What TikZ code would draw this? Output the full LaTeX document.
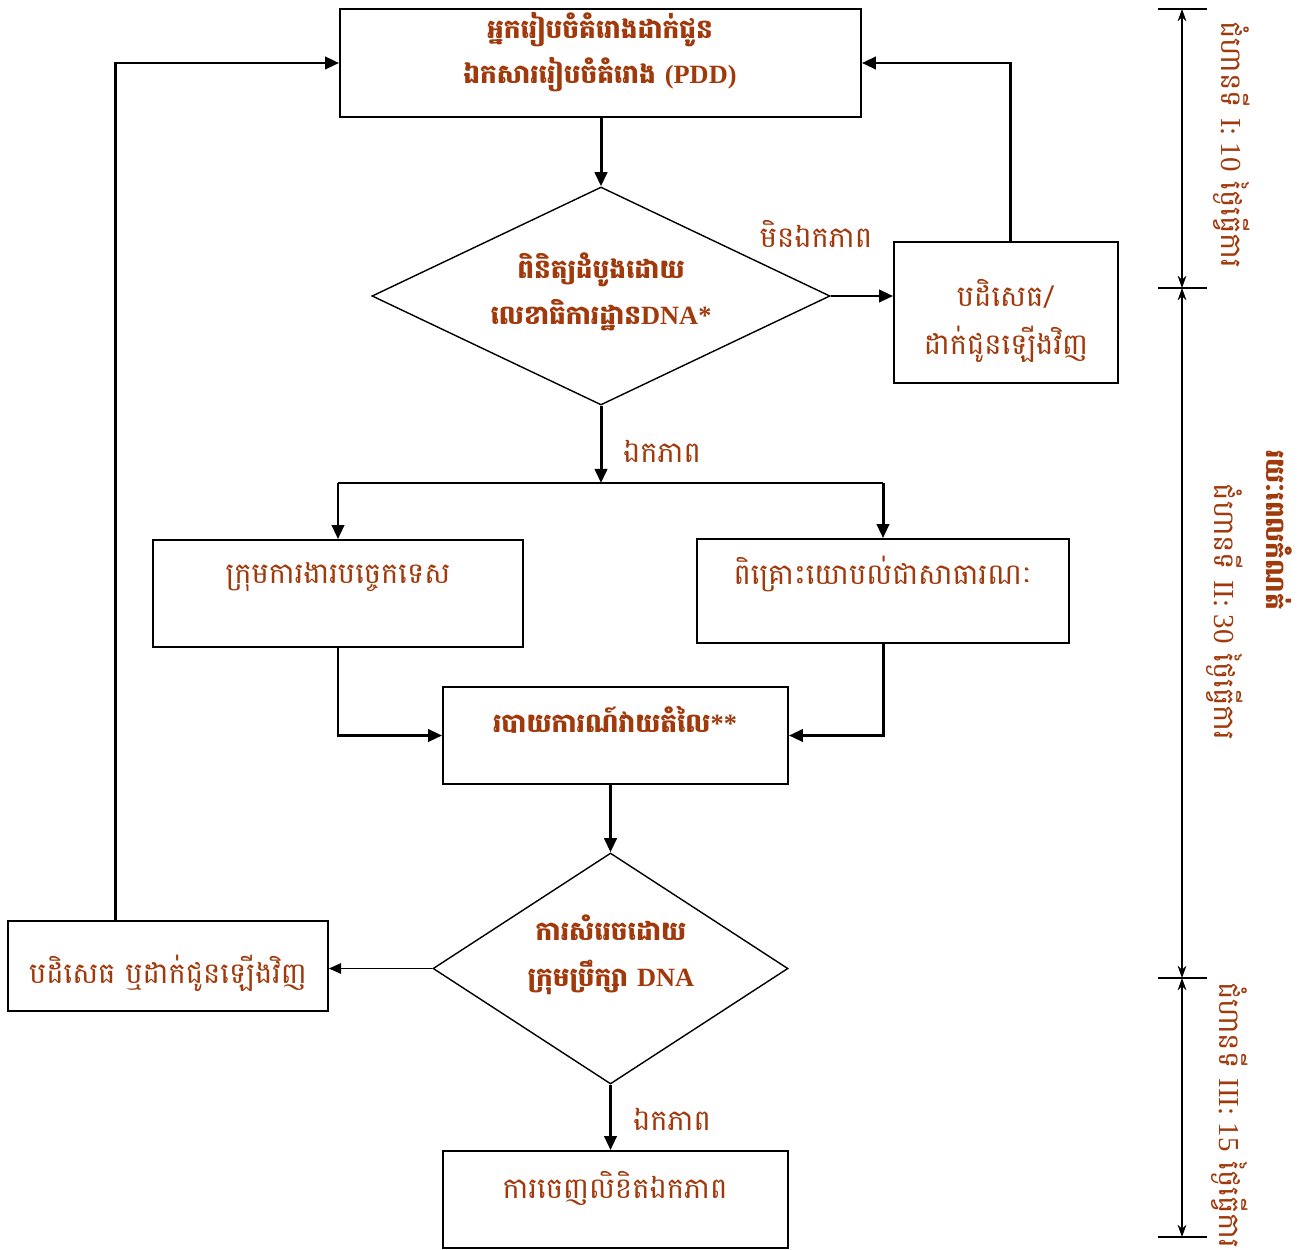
\documentclass[tikz,border=0pt]{standalone}
\usepackage{fontspec}
\newfontfamily\kh[Script=Khmer]{Battambang}
\newfontfamily\lat{Liberation Serif}
\usetikzlibrary{arrows.meta,shapes.geometric}
\definecolor{ink}{RGB}{160,58,12}

\tikzset{
  box/.style={draw, rectangle, line width=1pt, inner sep=0pt},
  dia/.style={draw, diamond, line width=0.8pt, inner sep=0pt},
  lbl/.style={text=ink, font=\kh\fontsize{16.5}{27}\selectfont, align=center, inner sep=0pt},
  blbl/.style={lbl, font=\kh\bfseries\fontsize{15}{26}\selectfont},
  arr/.style={line width=1.7pt, -{Triangle[length=8pt,width=7pt]}},
  thinarr/.style={line width=0.9pt, -{Triangle[length=7pt,width=6pt]}},
  conn/.style={line width=1.7pt},
  dim/.style={line width=0.7pt, {Stealth[length=7pt,width=5pt]}-{Stealth[length=7pt,width=5pt]}},
  tick/.style={line width=0.9pt},
}

\begin{document}
\begin{tikzpicture}[x=0.2mm,y=-0.2mm]
\useasboundingbox (0,0) rectangle (1309,1250);

% boxes and decisions
\node[box, minimum width=104.2mm, minimum height=21.6mm] (pdd) at (600.5,63) {};
\node[dia, minimum width=91.6mm, minimum height=43.6mm] (check) at (601,296) {};
\node[box, minimum width=44.8mm, minimum height=28.2mm] (rej1) at (1006,312.5) {};
\node[box, minimum width=74mm, minimum height=21.4mm] (tech) at (338,593.5) {};
\node[box, minimum width=74.4mm, minimum height=20.8mm] (pub) at (883,591) {};
\node[box, minimum width=69mm, minimum height=19.4mm] (report) at (615.5,735.5) {};
\node[dia, minimum width=71mm, minimum height=46.2mm] (board) at (610.5,968.5) {};
\node[box, minimum width=64mm, minimum height=18mm] (rej2) at (168,966) {};
\node[box, minimum width=69mm, minimum height=19.4mm] (letter) at (615.5,1199.5) {};

% texts
\node[blbl] (tpdd) at (600,52) {អ្នករៀបចំគំរោងដាក់ជូន\\ឯកសាររៀបចំគំរោង {\lat(PDD)}};
\node[blbl] (tcheck) at (601,292) {ពិនិត្យដំបូងដោយ\\លេខាធិការដ្ឋាន{\lat DNA*}};
\node[lbl] (trej1) at (1006,321) {បដិសេធ/\\ដាក់ជូនឡើងវិញ};
\node[lbl] (ttech) at (338,577) {ក្រុមការងារបច្ចេកទេស};
\node[lbl] (tpub) at (883,574) {ពិគ្រោះយោបល់ជាសាធារណៈ};
\node[blbl] (treport) at (615,720) {របាយការណ៍វាយតំលៃ{\lat**}};
\node[blbl] (tboard) at (611,955) {ការសំរេចដោយ\\ក្រុមប្រឹក្សា {\lat DNA}};
\node[lbl] (trej2) at (168,973) {បដិសេធ ឬដាក់ជូនឡើងវិញ};
\node[lbl] (tletter) at (615,1188) {ការចេញលិខិតឯកភាព};

\node[lbl] (no) at (816,234) {មិនឯកភាព};
\node[lbl] (yes1) at (662,451) {ឯកភាព};
\node[lbl] (yes2) at (672,1119) {ឯកភាព};

% connectors
\draw[arr] (check.north |- pdd.south) -- (check.north);
\draw[arr] (check.east) -- (check.east -| rej1.west);
\draw[arr] ([xshift=0.8mm]rej1.north) |- (pdd.east);
\coordinate (split) at (601,483);
\draw[arr] (check.south) -- (split);
\draw[conn] (tech.north |- split) -- (pub.north |- split);
\draw[arr] (tech.north |- split) -- (tech.north);
\draw[arr] (pub.north |- split) -- (pub.north);
\draw[arr] (tech.south) |- (report.west);
\draw[arr] (pub.south) |- (report.east);
\draw[arr] (board.north |- report.south) -- (board.north);
\draw[thinarr] (board.west) -- (board.west -| rej2.east);
\draw[arr] ([xshift=21.6mm]rej2.north west) |- (pdd.west);
\draw[arr] (board.south) -- (board.south |- letter.north);

% time scale on the right
\coordinate (s0) at (1182,9);
\coordinate (s1) at (1182,288);
\coordinate (s2) at (1182,978);
\coordinate (s3) at (1182,1237);
\foreach \p in {s0,s1,s2,s3}
  \draw[tick] ([xshift=-4.8mm]\p) -- ([xshift=5mm]\p);
\draw[dim] (s0) -- (s1);
\draw[dim] (s1) -- (s2);
\draw[dim] (s2) -- (s3);

\node[lbl, rotate=-90] (st1) at (1232,145) {ជំហានទី {\lat I: 10} ថ្ងៃធ្វើការ};
\node[lbl, rotate=-90] (st2) at (1225,612) {ជំហានទី {\lat II: 30} ថ្ងៃធ្វើការ};
\node[lbl, rotate=-90] (st3) at (1230,1115) {ជំហានទី {\lat III: 15} ថ្ងៃធ្វើការ};
\node[blbl, rotate=-90, font=\kh\bfseries\fontsize{15}{22}\selectfont] (period) at (1279,530) {រយៈពេលកំណត់};
\end{tikzpicture}
\end{document}
